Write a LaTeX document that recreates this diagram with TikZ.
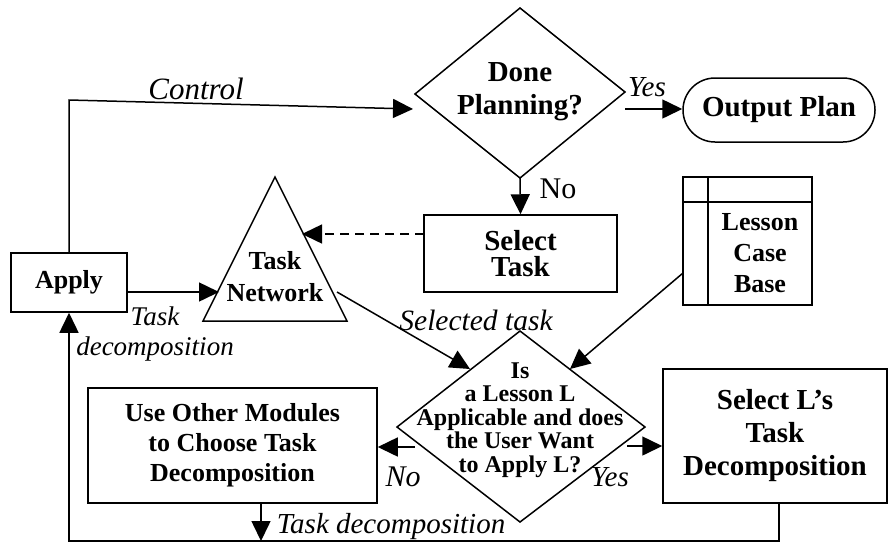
\documentclass[tikz,border=0pt]{standalone}
\usepackage{fontspec}
\setmainfont{Liberation Serif}
\usetikzlibrary{arrows.meta}
\begin{document}
\begin{tikzpicture}[x=1pt,y=-1pt,
  line width=1.5pt,
  arr/.style={-{Triangle[length=20pt,width=19pt]}},
  txt/.style={inner sep=0pt, align=center},
  bf/.style 2 args={txt, font=\fontsize{#1}{#2}\selectfont\bfseries},
  it/.style={inner sep=0pt, font=\fontsize{#1}{#1}\selectfont\itshape},
  boxed/.style 2 args={draw, minimum width=#1, minimum height=#2, inner sep=0pt}
]
\useasboundingbox (0,0) rectangle (890,542);

% ---- Apply ----
\node[boxed={116pt}{59pt}, bf={26}{28}] (apply) at (69,282.5) {Apply};

% ---- Done Planning? decision ----
\coordinate (dpL) at (415,94);
\coordinate (dpT) at (520,8);
\coordinate (dpR) at (625,92);
\coordinate (dpB) at (520,178);
\draw (dpL) -- (dpT) -- (dpR) -- (dpB) -- cycle;
\node[bf={29}{33}] (dp) at (520,92) {Done\\Planning?};

% ---- Output Plan ----
\node[boxed={192pt}{64pt}, rounded corners=32pt, bf={29}{30}] (out) at (779,110) {Output Plan};

% ---- Select Task ----
\node[boxed={193pt}{77pt}, bf={29}{26.5}] (st) at (520.5,253.5) {Select\\Task};

% ---- Task Network triangle ----
\coordinate (tA) at (275,177);
\coordinate (tL) at (203,321);
\coordinate (tR) at (347,321);
\draw (tA) -- (tL) -- (tR) -- cycle;
\node[bf={26}{32}] (tn) at (275,277) {Task\\Network};

% ---- Lesson Case Base ----
\node[boxed={129pt}{128pt}] (lcb) at (747.5,241) {};
\draw (lcb.north west -| 708,0) -- (lcb.south west -| 708,0);
\draw (lcb.north west |- 0,202) -- (lcb.north east |- 0,202);
\node[bf={26}{31}] (lcbt) at (760,253) {Lesson\\Case\\Base};

% ---- Lesson applicability decision ----
\coordinate (lqL) at (397,427);
\coordinate (lqT) at (520,331);
\coordinate (lqR) at (645,427);
\coordinate (lqB) at (520,522);
\draw (lqL) -- (lqT) -- (lqR) -- (lqB) -- cycle;
\node[bf={24}{23.5}] (lq) at (520,420) {Is\\a Lesson L\\Applicable and does\\the User Want\\to Apply L?};

% ---- Use Other Modules ----
\node[boxed={289pt}{115pt}, bf={26}{30}] (uo) at (232.5,445.5) {Use Other Modules\\to Choose Task\\Decomposition};

% ---- Select L's Task Decomposition ----
\node[boxed={224pt}{134pt}, bf={29}{33}] (sl) at (775,436) {Select L’s\\Task\\Decomposition};

% ---- connectors ----
\coordinate (ctrlBend) at (69,100);
\coordinate (dpIn) at (413,109);
\draw[arr] (apply.north) -- (ctrlBend) -- (dpIn);
\node[it=31] (lblControl) at (196,89) {Control};

\coordinate (yesOut) at (625,109);
\draw[arr] (yesOut) -- (yesOut -| out.west);
\node[it=29] (lblYes1) at (647,87) {Yes};

\draw[arr] (dpB) -- (st.north);
\node[txt, font=\fontsize{30}{30}\selectfont] (lblNo1) at (558,189) {No};

\coordinate (stOut) at (424,234);
\coordinate (tnIn) at (302,234);
\draw[arr, dash pattern=on 9pt off 6pt] (stOut) -- (tnIn);

\coordinate (apOut) at (127,292);
\coordinate (tnLeft) at (219,292);
\draw[arr] (apOut) -- (tnLeft);
\node[txt, font=\fontsize{27}{30}\selectfont\itshape] (lblTD1) at (155,334) {Task\\decomposition};

\coordinate (tnOut) at (337,292);
\coordinate (lqIn1) at (470,369);
\draw[arr] (tnOut) -- (lqIn1);
\node[it=29.5] (lblSel) at (476,320) {Selected task};

\coordinate (lcbOut) at (683,273);
\coordinate (lqIn2) at (570,369);
\draw[arr] (lcbOut) -- (lqIn2);

\coordinate (noOut) at (415,447);
\draw[arr] (noOut) -- (noOut -| uo.east);
\node[it=30] (lblNo2) at (403,477) {No};

\coordinate (yesOut2) at (627,446);
\draw[arr] (yesOut2) -- (yesOut2 -| sl.west);
\node[it=29] (lblYes2) at (610,477) {Yes};

\coordinate (uoDown) at (261,541);
\draw[arr] (uoDown |- uo.south) -- (uoDown);
\node[it=29, anchor=west] (lblTD2) at (276,527) {Task decomposition};

\coordinate (loopR) at (779,541);
\coordinate (loopL) at (69,541);
\draw[arr] (loopR |- sl.south) -- (loopR) -- (loopL) -- (apply.south);
\end{tikzpicture}
\end{document}
